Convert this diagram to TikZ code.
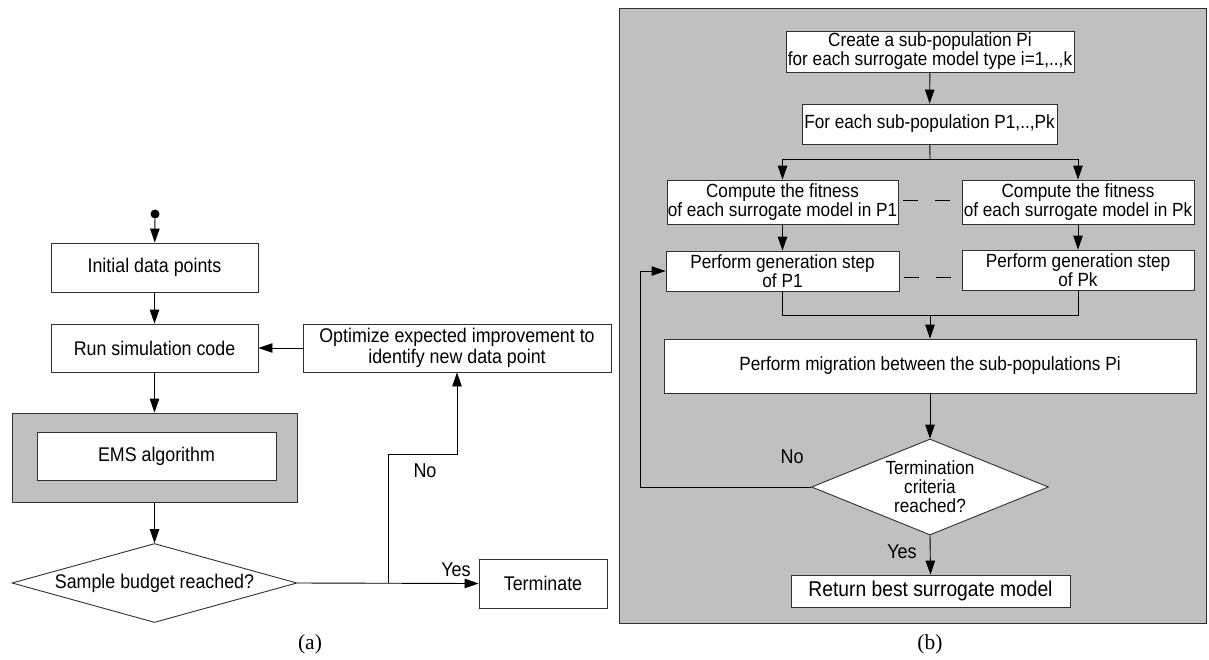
\documentclass[tikz,border=0pt]{standalone}
\usepackage{fontspec}
\setmainfont{Liberation Sans}[FakeStretch=0.9]
\newfontfamily\capfont{Liberation Serif}
\usetikzlibrary{arrows.meta,shapes.geometric}
\definecolor{panelgray}{HTML}{C0C0C0}
\definecolor{edgecol}{HTML}{303030}
\begin{document}
\begin{tikzpicture}[x=1pt,y=-1pt,
  lbox/.style={draw=edgecol, fill=white, line width=0.9pt, inner sep=0pt, align=center, font=\fontsize{19.8}{21}\selectfont},
  rbox/.style={draw=edgecol, fill=white, line width=0.9pt, inner sep=0pt, align=center, font=\fontsize{19.1}{19}\selectfont},
  ldec/.style={lbox, diamond, shape aspect=3.6},
  rdec/.style={rbox, diamond, shape aspect=2.47},
  arr/.style={draw=black, line width=0.9pt, -{Triangle[length=14pt,width=9.5pt]}},
  ln/.style={draw=black, line width=0.9pt},
  lab/.style={inner sep=0pt, font=\fontsize{20}{21}\selectfont},
  captext/.style={inner sep=0pt, font=\capfont\fontsize{21.5}{24}\selectfont}]
\useasboundingbox (0,0) rectangle (1209,659);

% ---------------- left panel (a) ----------------
\node[circle, fill=black, inner sep=0pt, minimum size=9pt] (start) at (155,214) {};
\node[lbox, minimum width=207pt, minimum height=49pt] (init) at (154.5,267.5) {Initial data points};
\node[lbox, minimum width=207pt, minimum height=48pt] (run) at (154.5,348) {Run simulation code};
\node[lbox, minimum width=308pt, minimum height=48pt] (opt) at (457,348) {Optimize expected improvement to\\identify new data point};
\node[lbox, fill=panelgray, minimum width=285pt, minimum height=89pt] (ems) at (154.5,457.5) {};
\node[lbox, minimum width=239pt, minimum height=48pt] (emsin) at (156.5,456) {EMS algorithm};
\node[ldec, minimum width=285pt, minimum height=79pt] (dec) at (154.5,583) {Sample budget reached?};
\node[lbox, minimum width=128pt, minimum height=49pt] (term) at (543,583.5) {Terminate};

\draw[arr] (start) -- (init);
\draw[arr] (init) -- (run);
\draw[arr] (opt.west) -- (run.east);
\draw[arr] (run) -- (ems);
\draw[arr] (ems) -- (dec);
\draw[arr] (dec.east) -- (term.west);
\coordinate (b1) at (388,583);
\coordinate (b2) at (388,454);
\draw[arr] (b1) -- (b2) -| (opt.south);
\node[lab] (no1) at (425,471) {No};
\node[lab] (yes1) at (456,570) {Yes};
\node[captext] (capa) at (310,644) {(a)};

% ---------------- right panel (b) ----------------
\draw[draw=edgecol, fill=panelgray, line width=0.9pt] (619,8) rectangle (1206,623);
\node[rbox, minimum width=288pt, minimum height=41pt] (top) at (930,51.5) {Create a sub-population Pi\\for each surrogate model type i=1,..,k};
\node[rbox, minimum width=255pt, minimum height=40pt] (fe) at (929.5,124) {For each sub-population P1,..,Pk};
\node[rbox, minimum width=231pt, minimum height=44pt] (fit1) at (782.5,202) {Compute the fitness\\of each surrogate model in P1};
\node[rbox, minimum width=232pt, minimum height=44pt] (fitk) at (1078,202) {Compute the fitness\\of each surrogate model in Pk};
\node[rbox, minimum width=233pt, minimum height=40pt] (gen1) at (782.5,271) {Perform generation step\\of P1};
\node[rbox, minimum width=232pt, minimum height=40pt] (genk) at (1078,270) {Perform generation step\\of Pk};
\node[rbox, minimum width=532pt, minimum height=54pt] (mig) at (930,366) {Perform migration between the sub-populations Pi};
\node[rdec, minimum width=237pt, minimum height=96pt] (tc) at (930,487) {Termination\\criteria\\reached?};
\node[rbox, minimum width=279pt, minimum height=32pt, font=\fontsize{21.4}{23}\selectfont] (ret) at (930.5,591) {Return best surrogate model};

\draw[arr] (top) -- (fe);
\coordinate (sp) at (930,159);
\draw[ln] (fe) -- (sp);
\draw[arr] (sp) -| (fit1.north);
\draw[arr] (sp) -| (fitk.north);
\draw[arr] (fit1) -- (gen1);
\draw[arr] (fitk) -- (genk);
\coordinate (mg) at (930,315);
\draw[ln] (gen1.south) |- (mg);
\draw[ln] (genk.south) |- (mg);
\draw[arr] (mg) -- (mig.north);
\draw[arr] (mig) -- (tc);
\coordinate (fb) at (640,487);
\draw[arr] (tc.west) -- (fb) |- (gen1.west);
\draw[arr] (tc.south) -- (ret.north);
\draw[ln] ([xshift=5pt,yshift=2pt]fit1.east) -- ([xshift=20pt,yshift=2pt]fit1.east);
\draw[ln] ([xshift=37pt,yshift=2pt]fit1.east) -- ([xshift=52pt,yshift=2pt]fit1.east);
\draw[ln] ([xshift=5pt,yshift=-6pt]gen1.east) -- ([xshift=20pt,yshift=-6pt]gen1.east);
\draw[ln] ([xshift=37pt,yshift=-6pt]gen1.east) -- ([xshift=52pt,yshift=-6pt]gen1.east);
\node[lab] (no2) at (792,457) {No};
\node[lab] (yes2) at (902,552) {Yes};
\node[captext] (capb) at (930,644) {(b)};
\end{tikzpicture}
\end{document}
